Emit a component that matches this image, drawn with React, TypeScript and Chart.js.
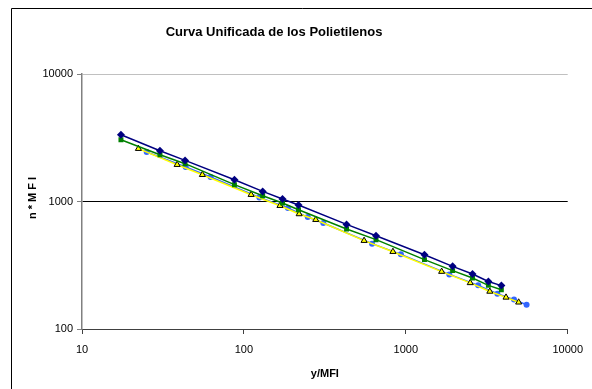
import React, { useEffect, useRef } from "react";
import { Chart, registerables } from "chart.js";

Chart.register(...registerables);

const chartTitle = "Curva Unificada de los Polietilenos";
const xAxisTitle = "y/MFI";
const yAxisTitle = "n*MFI";
const xTicks = [10, 100, 1000, 10000];
const yTicks = [100, 1000, 10000];

const navyX = [17.4, 30.3, 43.3, 87.4, 130.6, 173.2, 217.3, 430.6, 654.7, 1304, 1946, 2582, 3237, 3892];
const navyY = [3342, 2502, 2100, 1483, 1200, 1046, 939, 661, 539, 382, 310, 270, 236, 219];
const greenX = [17.4, 30.3, 43.3, 87.4, 130.6, 173.2, 217.3, 430.6, 654.7, 1304, 1946, 2582, 3237, 3892];
const greenY = [3054, 2328, 1980, 1355, 1110, 973, 862, 608, 502, 350, 287, 251, 220, 203];
const yellowX = [22.3, 38.7, 55.4, 110.8, 167, 219.4, 277.8, 552.5, 832.6, 1665, 2500, 3303, 4159, 4977];
const yellowY = [2596, 1944, 1622, 1131, 927, 798, 720, 493, 404, 282, 230, 197, 177, 162];
const blueX = [25.1, 43.7, 62.3, 124.6, 187, 248, 309.4, 618.8, 932.5, 1857, 2800, 3678, 4659, 5572];
const blueY = [2445, 1865, 1556, 1077, 889, 755, 678, 467, 385, 268, 220, 189, 170, 155];

const FONT = "'Liberation Sans', Arial, sans-serif";

const pts = (xs: number[], ys: number[]) => xs.map((x, i) => ({ x, y: ys[i] }));

const decorPlugin = {
  id: "decor",
  beforeDraw(chart: any) {
    const ctx = chart.ctx;
    ctx.save();
    ctx.fillStyle = "#fff";
    ctx.fillRect(0, 0, chart.width, chart.height);
    ctx.strokeStyle = "#000";
    ctx.lineWidth = 1;
    ctx.beginPath();
    ctx.moveTo(11.5, chart.height + 2);
    ctx.lineTo(11.5, 8.5);
    ctx.lineTo(chart.width + 2, 8.5);
    ctx.stroke();
    ctx.restore();
  },
  afterDraw(chart: any) {
    const ctx = chart.ctx;
    const a = chart.chartArea;
    ctx.save();
    ctx.fillStyle = "#000";
    ctx.textAlign = "center";
    ctx.textBaseline = "middle";
    ctx.font = `bold 13px ${FONT}`;
    ctx.fillText(chartTitle, 274, 32);
    ctx.font = `bold 11px ${FONT}`;
    ctx.fillText(xAxisTitle, (a.left + a.right) / 2, 374);
    ctx.translate(33, (a.top + a.bottom) / 2 - 5);
    ctx.rotate(-Math.PI / 2);
    try {
      (ctx as any).letterSpacing = "3px";
    } catch (e) {}
    ctx.fillText(yAxisTitle, 0, 0);
    ctx.restore();
  },
};

export default function App() {
  const ref = useRef<HTMLCanvasElement>(null);
  useEffect(() => {
    document.body.style.margin = "0";
    const chart = new Chart(ref.current as HTMLCanvasElement, {
      type: "scatter",
      data: {
        datasets: [
          {
            data: pts(navyX, navyY),
            showLine: true,
            borderColor: "#000080",
            backgroundColor: "#000080",
            borderWidth: 1.5,
            pointStyle: "rectRot",
            pointRadius: 4,
            pointBorderWidth: 0,
          },
          {
            data: pts(greenX, greenY),
            showLine: true,
            borderColor: "#008000",
            backgroundColor: "#008000",
            borderWidth: 1.5,
            pointStyle: "rect",
            pointRadius: 3.5,
            pointBorderWidth: 0,
          },
          {
            data: pts(yellowX, yellowY),
            showLine: true,
            borderColor: "#FFFF00",
            backgroundColor: "#FFFF00",
            pointBorderColor: "#000",
            borderWidth: 1.5,
            pointStyle: "triangle",
            pointRadius: 3.5,
            pointBorderWidth: 1,
          },
          {
            data: pts(blueX, blueY),
            showLine: true,
            borderColor: "#3366FF",
            backgroundColor: "#3366FF",
            borderWidth: 1.5,
            pointStyle: "circle",
            pointRadius: 3,
            pointBorderWidth: 0,
          },
        ],
      },
      options: {
        animation: false,
        responsive: false,
        layout: { padding: { top: 74, right: 22, left: 0, bottom: 0 } },
        plugins: { legend: { display: false }, title: { display: false }, tooltip: { enabled: false } },
        scales: {
          x: {
            type: "logarithmic",
            min: 10,
            max: 10000,
            afterBuildTicks: (s: any) => {
              s.ticks = xTicks.map((v) => ({ value: v }));
            },
            afterFit: (s: any) => {
              s.height = 60;
            },
            ticks: {
              color: "#000",
              font: { family: FONT, size: 11 },
              padding: 9,
              maxRotation: 0,
              autoSkip: false,
              callback: (v: any) => String(v),
            },
            grid: {
              drawOnChartArea: false,
              drawTicks: true,
              tickLength: 5,
              tickColor: "#404040",
            },
            border: { display: true, color: "#404040", width: 1 },
          },
          y: {
            type: "logarithmic",
            min: 100,
            max: 10000,
            afterBuildTicks: (s: any) => {
              s.ticks = yTicks.map((v) => ({ value: v }));
            },
            afterFit: (s: any) => {
              s.width = 82;
            },
            ticks: {
              color: "#000",
              font: { family: FONT, size: 11 },
              padding: 4,
              autoSkip: false,
              callback: (v: any) => String(v),
            },
            grid: {
              drawOnChartArea: true,
              drawTicks: true,
              tickLength: 5,
              tickColor: "#808080",
              color: (c: any) => (c.tick && c.tick.value === 10000 ? "#c0c0c0" : c.tick && c.tick.value === 100 ? "rgba(0,0,0,0)" : "#000"),
              lineWidth: 1,
            },
            border: { display: true, color: "#808080", width: 1.5 },
          },
        },
      },
      plugins: [decorPlugin],
    } as any);
    return () => chart.destroy();
  }, []);
  return (
    <div style={{ position: "absolute", left: 0, top: 0, width: 592, height: 389 }}>
      <canvas ref={ref} width={592} height={389} style={{ width: 592, height: 389 }} />
    </div>
  );
}
